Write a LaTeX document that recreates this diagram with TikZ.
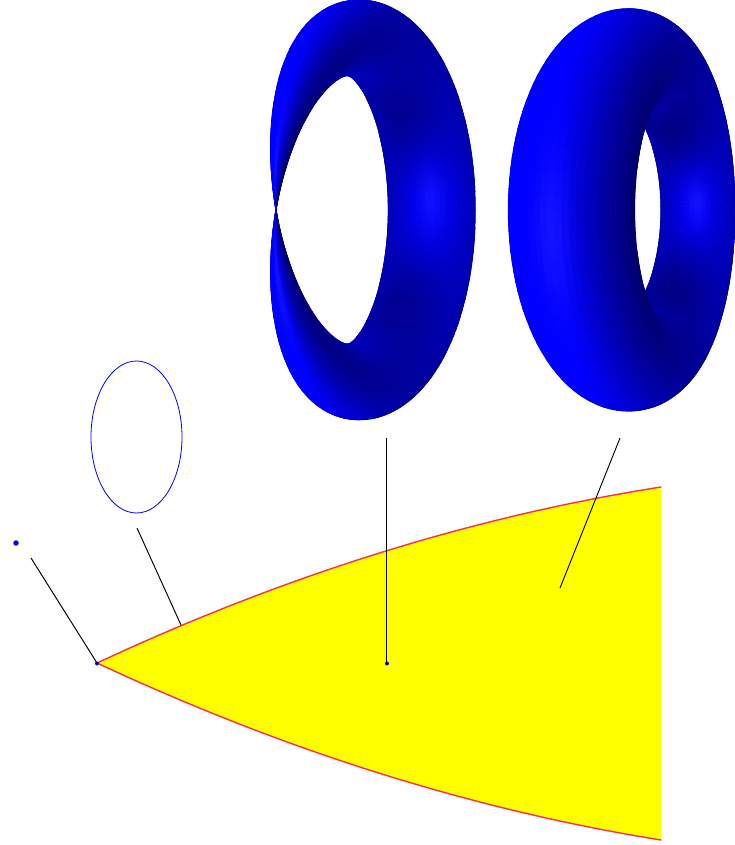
\documentclass[tikz,border=0pt]{standalone}
\usepackage{tikz}
\usetikzlibrary{shapes.geometric}
\definecolor{edgered}{RGB}{255,45,75}
\definecolor{regionyellow}{RGB}{255,255,0}
\definecolor{pureblue}{RGB}{0,0,255}
\tikzset{
  leader/.style={black,line width=0.95pt},
  bluedot/.style={circle,fill=pureblue,inner sep=0pt,minimum size=#1},
  oval/.style={draw=pureblue,line width=0.8pt,ellipse},
}
\def\gN{144}\def\gM{60}
% angle tables (scale 10000); phi = -90 + h*1.25, theta = j*3
\def\gNN{288}\def\gMM{120}
\foreach \h in {0,...,\gNN}{%
  \pgfmathtruncatemacro\qa{round(10000*cos(-90+\h*1.25))}%
  \pgfmathtruncatemacro\qb{round(10000*sin(-90+\h*1.25))}%
  \expandafter\xdef\csname cp\h\endcsname{\qa}%
  \expandafter\xdef\csname sp\h\endcsname{\qb}%
}
\foreach \j in {0,...,\gMM}{%
  \pgfmathtruncatemacro\qa{round(10000*cos(\j*3))}%
  \pgfmathtruncatemacro\qb{round(10000*sin(\j*3))}%
  \expandafter\xdef\csname ct\j\endcsname{\qa}%
  \expandafter\xdef\csname st\j\endcsname{\qb}%
}
\def\qD{51000}\def\qcy{21000}
\newcommand\qsetpoint[2]{%
  \edef\qrr{\csname r#1\endcsname}%
  \edef\qct{\csname ct#2\endcsname}\edef\qst{\csname st#2\endcsname}%
  \edef\qcp{\csname cp#1\endcsname}\edef\qsp{\csname sp#1\endcsname}%
  \edef\qrho{\the\numexpr\qR+\qrr*\qct/10000\relax}%
  \edef\qsa{\the\numexpr\qrho*\qsp/10000\relax}%
  \edef\qrs{\the\numexpr\qrr*\qst/10000\relax}%
  \edef\qPx{\the\numexpr\qsa*\qc/10000+\qrs*\qs/10000\relax}%
  \edef\qPy{\the\numexpr\qrho*\qcp/10000\relax}%
  \edef\qPz{\the\numexpr\qrs*\qc/10000-\qsa*\qs/10000\relax}%
  \edef\qden{\the\numexpr\qD-\qPz\relax}%
}
\newcommand\qdrawquad[2]{% h j (odd centre indices)
  \qsetpoint{#1}{#2}%
  \edef\qrp{\csname rp#1\endcsname}%
  \edef\qmx{\the\numexpr(\qct*\qsp/10000)*\qc/10000+\qst*\qs/10000\relax}%
  \edef\qmy{\the\numexpr\qct*\qcp/10000\relax}%
  \edef\qmz{\the\numexpr\qst*\qc/10000-(\qct*\qsp/10000)*\qs/10000\relax}%
  \edef\qk{\the\numexpr\qrp*10000/\qrho\relax}%
  \edef\qq{\the\numexpr10000-\qk*\qk/20000\relax}%
  \edef\qnx{\the\numexpr(\qmx-\qk*(\qcp*\qc/10000)/10000)*\qq/10000\relax}%
  \edef\qny{\the\numexpr(\qmy+\qk*\qsp/10000)*\qq/10000\relax}%
  \edef\qnz{\the\numexpr(\qmz+\qk*(\qcp*\qs/10000)/10000)*\qq/10000\relax}%
  \edef\qdot{\the\numexpr\qden*\qnz/10-\qPx*\qnx/10-\qPy*\qny/10\relax}%
  \ifnum\qdot>0
    \edef\qF{\the\numexpr(10000-\qsp)/2\relax}%
    \edef\qnyy{\the\numexpr\qny*\qny/10000\relax}%
    \edef\qnl{\the\numexpr\qnz*97/100-\qnx*(1200+\qF/30)/10000-\qny*8/100\relax}%
    \ifnum\qnl<0 \def\qnl{0}\fi
    \edef\qsb{\the\numexpr\qnl*\qnl/10000\relax}%
    \edef\qsb{\the\numexpr\qsb*\qsb/10000\relax}%
    \edef\qsb{\the\numexpr\qsb*\qsb/10000\relax}%
    \edef\qsc{\the\numexpr\qsb*\qsb/10000\relax}%
    \edef\qsc{\the\numexpr\qsc*\qsc/10000\relax}%
    \edef\qI{\the\numexpr6650+\qnz*16/100+\qnyy*(\qF-5500)/10000-\qnx*(300+\qF/4)/10000+2000*\qsb/10000\relax}%
    \edef\qb{\the\numexpr\qI*255/10000\relax}%
    \ifnum\qb>255 \def\qb{255}\fi
    \ifnum\qb<105 \def\qb{105}\fi
    \edef\qw{\the\numexpr30*\qsc/10000\relax}%
    \definecolor{qcol}{RGB}{\qw,\qw,\qb}%
    \edef\qua{\the\numexpr#1-1\relax}\edef\qub{\the\numexpr#1+1\relax}%
    \edef\qja{\the\numexpr#2-1\relax}\edef\qjb{\the\numexpr#2+1\relax}%
    \fill[qcol,draw=qcol,line width=0.9pt,line join=round]
      (\csname P\qua:\qja\endcsname)--(\csname P\qub:\qja\endcsname)--
      (\csname P\qub:\qjb\endcsname)--(\csname P\qua:\qjb\endcsname)--cycle;
  \fi
}
% #1 cx, #2 R, #3 c, #4 s, #5 r(\ph), #6 dr/dphi(\ph); all lengths in 1/100 px
\newcommand\qtorus[6]{%
  \def\qcx{#1}\def\qR{#2}\def\qc{#3}\def\qs{#4}%
  \foreach \h in {0,...,\gNN}{%
    \pgfmathsetmacro\ph{-90+\h*1.25}%
    \pgfmathtruncatemacro\qa{round(#5)}%
    \pgfmathtruncatemacro\qb{round(#6)}%
    \expandafter\xdef\csname r\h\endcsname{\qa}%
    \expandafter\xdef\csname rp\h\endcsname{\qb}%
  }%
  \foreach \m in {0,...,\gN}{%
    \foreach \n in {0,...,\gM}{%
      \edef\qhh{\the\numexpr2*\m\relax}\edef\qjj{\the\numexpr2*\n\relax}%
      \qsetpoint{\qhh}{\qjj}%
      \edef\qX{\the\numexpr(\qcx+\qPx*\qD/\qden)*655\relax}%
      \edef\qY{\the\numexpr(\qPy*\qD/\qden-\qcy)*655\relax}%
      \expandafter\xdef\csname P\qhh:\qjj\endcsname{\qX sp,\qY sp}%
    }%
  }%
  \foreach \d in {0,...,71}{%
    \edef\qhA{\the\numexpr2*(71-\d)+1\relax}%
    \edef\qhB{\the\numexpr2*(72+\d)+1\relax}%
    \foreach \n in {0,...,59}{%
      \edef\qjc{\the\numexpr2*\n+1\relax}%
      \qdrawquad{\qhA}{\qjc}%
      \qdrawquad{\qhB}{\qjc}%
    }%
  }%
}
\begin{document}
\begin{tikzpicture}[x=1pt,y=-1pt]
\useasboundingbox (0,0) rectangle (734,845);
% tori
\qtorus{37630}{16350}{4360}{9000}{5560*sin((\ph+90)/2)}{2780*cos((\ph+90)/2)}
\qtorus{65150}{14270}{4100}{9121}{4620}{0}
% yellow region
\coordinate (cusp) at (97,663);
\coordinate (topend) at (661,487);
\coordinate (botend) at (661,840);
\fill[regionyellow] (cusp) .. controls (285,575.2) and (473,516.5) .. (topend) -- (botend)
   .. controls (473,809.8) and (285,750.8) .. (cusp) -- cycle;
\draw[edgered,line width=1.4pt,line cap=round] (topend) .. controls (473,516.5) and (285,575.2) .. (cusp)
   .. controls (285,750.8) and (473,809.8) .. (botend);
% oval and dots
\node[oval,minimum width=91pt,minimum height=152pt,inner sep=0pt] (circ) at (136.5,437) {};
\node[bluedot=5.5pt] (pt) at (16,543) {};
\node[bluedot=4pt] (pcusp) at (97,663.5) {};
\node[bluedot=4pt] (pmid) at (387,663.5) {};
% leaders
\coordinate (a1) at (31,558);
\coordinate (b1) at (137,528);
\coordinate (b2) at (181,625);
\coordinate (c1) at (386,438);
\coordinate (c2) at (386,663);
\coordinate (d1) at (620,438);
\coordinate (d2) at (560,588);
\draw[leader] (a1) -- (cusp);
\draw[leader] (b1) -- (b2);
\draw[leader] (c1) -- (c2);
\draw[leader] (d1) -- (d2);
\end{tikzpicture}
\end{document}
